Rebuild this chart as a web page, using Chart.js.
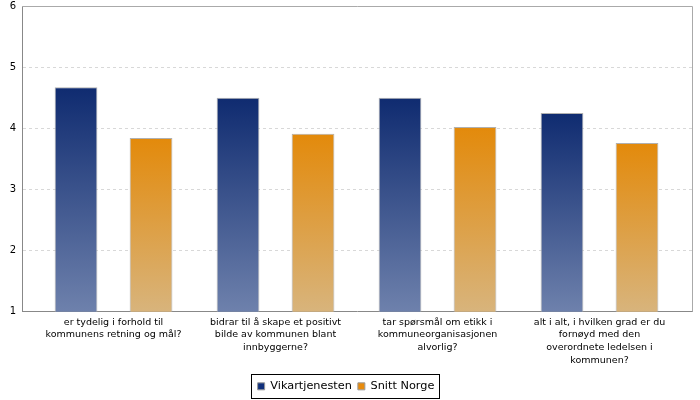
<!DOCTYPE html>
<html>
<head>
<meta charset="utf-8">
<script src="https://cdn.jsdelivr.net/npm/chart.js@4/dist/chart.umd.min.js"></script>
<style>
  html, body { margin: 0; padding: 0; background: #fff; }
  #wrap { width: 700px; height: 400px; }
</style>
</head>
<body>
<div id="wrap"><canvas id="barChart"></canvas></div>
<script>
// Chart data
const categories = [
  ["er tydelig i forhold til", "kommunens retning og mål?"],
  ["bidrar til å skape et positivt", "bilde av kommunen blant", "innbyggerne?"],
  ["tar spørsmål om etikk i", "kommuneorganisasjonen", "alvorlig?"],
  ["alt i alt, i hvilken grad er du", "fornøyd med den", "overordnete ledelsen i", "kommunen?"]
];
const vikarValues = [4.67, 4.5, 4.5, 4.25];
const norgeValues = [3.84, 3.91, 4.02, 3.76];
const seriesNames = ["Vikartjenesten", "Snitt Norge"];
const yTicks = [1, 2, 3, 4, 5, 6];
const catIndex = categories.map((c, i) => i);

const FONT = "'DejaVu Sans', Verdana, sans-serif";

// vertical gradient from the top of each bar down to its base
function barGradient(topColor, bottomColor) {
  return function (ctx) {
    const chart = ctx.chart;
    if (!chart.chartArea || ctx.type !== "data" || !ctx.parsed) return topColor;
    const ys = chart.scales.y;
    const yTop = ys.getPixelForValue(ctx.parsed.y);
    const yBase = ys.getPixelForValue(yTicks[0]);
    if (!isFinite(yTop) || !isFinite(yBase)) return topColor;
    const g = chart.ctx.createLinearGradient(0, yTop, 0, yBase);
    g.addColorStop(0, topColor);
    g.addColorStop(1, bottomColor);
    return g;
  };
}

// frame on top/right of plot + box round the legend
const framePlugin = {
  id: "frame",
  afterDraw(chart) {
    const { ctx, chartArea } = chart;
    ctx.save();
    ctx.strokeStyle = "#aaaaaa";
    ctx.lineWidth = 1;
    ctx.beginPath();
    ctx.moveTo(chartArea.left, chartArea.top + 0.5);
    ctx.lineTo(chartArea.right + 0.5, chartArea.top + 0.5);
    ctx.lineTo(chartArea.right + 0.5, chartArea.bottom);
    ctx.stroke();

    const boxes = chart.legend && chart.legend.legendHitBoxes;
    if (boxes && boxes.length) {
      const first = boxes[0];
      const last = boxes[boxes.length - 1];
      const x0 = Math.round(first.left - 7) + 0.5;
      const x1 = Math.round(last.left + last.width + 5) + 0.5;
      const y0 = Math.round(first.top - 7) + 0.5;
      const y1 = Math.round(first.top + first.height + 6) + 0.5;
      ctx.strokeStyle = "#000";
      ctx.strokeRect(x0, y0, x1 - x0, y1 - y0);
    }
    ctx.restore();
  }
};

const chartCtx = document.getElementById("barChart");
new Chart(chartCtx.getContext("2d"), {
  type: "bar",
  data: {
    datasets: [
      {
        label: seriesNames[0],
        data: catIndex.map((x, i) => ({ x: x, y: vikarValues[i] })),
        backgroundColor: barGradient("#0f2b70", "#6e81ac"),
        borderColor: "#b0b0b0",
        borderWidth: 1,
        legendColor: "#10307c",
      },
      {
        label: seriesNames[1],
        data: catIndex.map((x, i) => ({ x: x, y: norgeValues[i] })),
        backgroundColor: barGradient("#e38a0b", "#d8b47c"),
        borderColor: "#b0b0b0",
        borderWidth: 1,
        legendColor: "#e88b0c",
      },
    ],
  },
  options: {
    responsive: true,
    maintainAspectRatio: false,
    animation: false,
    categoryPercentage: 0.926,
    barPercentage: 0.57,
    layout: {
      padding: { top: 0, right: 8, left: 0, bottom: -2 },
    },
    plugins: {
      tooltip: { enabled: false },
      legend: {
        position: "bottom",
        labels: {
          boxWidth: 7,
          boxHeight: 7,
          padding: 6,
          color: "#000",
          font: { family: FONT, size: 11.3 },
          generateLabels(chart) {
            return chart.data.datasets.map((ds, i) => ({
              text: ds.label,
              fillStyle: ds.legendColor,
              strokeStyle: "#999999",
              lineWidth: 1,
              hidden: false,
              datasetIndex: i,
              fontColor: "#000",
            }));
          },
        },
      },
    },
    scales: {
      x: {
        type: "linear",
        offset: false,
        min: -0.565,
        max: 3.571,
        grid: { display: false, drawTicks: false },
        border: { color: "#888888", width: 1 },
        afterBuildTicks(scale) {
          scale.ticks = catIndex.map((v) => ({ value: v }));
        },
        afterFit(scale) {
          scale.height = 63;
        },
        ticks: {
          autoSkip: false,
          maxRotation: 0,
          padding: 4,
          color: "#000",
          font: { family: FONT, size: 9.5, lineHeight: 1.35 },
          callback: (value) => categories[value] || "",
        },
      },
      y: {
        min: yTicks[0],
        max: yTicks[yTicks.length - 1],
        afterBuildTicks(scale) {
          scale.ticks = yTicks.map((v) => ({ value: v }));
        },
        afterFit(scale) {
          scale.width = 22;
          scale.paddingTop = 6;
          scale.paddingBottom = 0;
        },
        grid: {
          drawTicks: false,
          color: (c) =>
            c.tick && (c.tick.value === yTicks[0] || c.tick.value === yTicks[yTicks.length - 1])
              ? "rgba(0,0,0,0)"
              : "#d8d8d8",
        },
        border: { color: "#888888", width: 1, dash: [3, 3] },
        ticks: {
          padding: 6,
          color: "#000",
          font: { family: FONT, size: 10 },
        },
      },
    },
  },
  plugins: [framePlugin],
});
</script>
</body>
</html>
